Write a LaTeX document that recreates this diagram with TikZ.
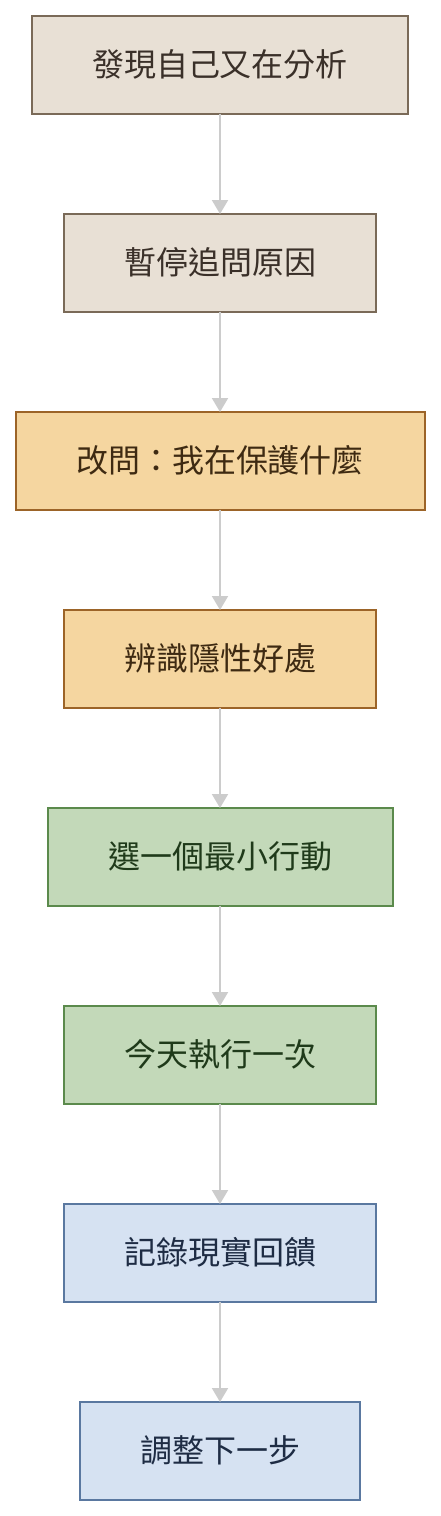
\documentclass[tikz,border=0pt]{standalone}
\usepackage{fontspec}
\newfontfamily\cjk{Noto Sans CJK TC}
\usetikzlibrary{positioning, arrows.meta}

\definecolor{beigefill}{HTML}{E8E0D5}
\definecolor{beigeline}{HTML}{7A6A58}
\definecolor{beigetext}{HTML}{3A3029}
\definecolor{amberfill}{HTML}{F5D6A0}
\definecolor{amberline}{HTML}{9C6428}
\definecolor{ambertext}{HTML}{3E2A12}
\definecolor{sagefill}{HTML}{C3D9B9}
\definecolor{sageline}{HTML}{5B8A4C}
\definecolor{sagetext}{HTML}{1F3A1A}
\definecolor{bluefill}{HTML}{D6E2F2}
\definecolor{blueline}{HTML}{5A78A0}
\definecolor{bluetext}{HTML}{1E2C44}
\definecolor{linkgray}{HTML}{CCCCCC}

\begin{document}
\begin{tikzpicture}[
    >={Triangle[width=16pt, length=14pt]},
    node distance=100.5pt,
    stepbox/.style={draw, line width=2pt, inner sep=0pt, outer sep=0pt,
               minimum height=97.5pt,
               font=\cjk\fontsize{32}{38}\selectfont},
    beige/.style={stepbox, fill=beigefill, draw=beigeline, text=beigetext},
    amber/.style={stepbox, fill=amberfill, draw=amberline, text=ambertext},
    sage/.style={stepbox, fill=sagefill, draw=sageline, text=sagetext},
    bluish/.style={stepbox, fill=bluefill, draw=blueline, text=bluetext},
    link/.style={->, draw=linkgray, line width=2pt}
]
\useasboundingbox (0,0) rectangle (440pt,-1516pt);

%---------------- Noticing ----------------
\node[beige, minimum width=376pt] (notice) at (220pt,-64.75pt) {發現自己又在分析};
\node[beige, minimum width=312pt, below=of notice] (pause) {暫停追問原因};

%---------------- Reframing ----------------
\node[amber, minimum width=409pt, below=of pause] (reframe) {改問：我在保護什麼};
\node[amber, minimum width=312pt, below=of reframe] (benefit) {辨識隱性好處};

%---------------- Acting ----------------
\node[sage, minimum width=345pt, below=of benefit] (pick) {選一個最小行動};
\node[sage, minimum width=312pt, below=of pick] (doit) {今天執行一次};

%---------------- Reviewing ----------------
\node[bluish, minimum width=312pt, below=of doit] (record) {記錄現實回饋};
\node[bluish, minimum width=280pt, below=of record] (adjust) {調整下一步};

\draw[link] (notice) -- (pause);
\draw[link] (pause) -- (reframe);
\draw[link] (reframe) -- (benefit);
\draw[link] (benefit) -- (pick);
\draw[link] (pick) -- (doit);
\draw[link] (doit) -- (record);
\draw[link] (record) -- (adjust);

\end{tikzpicture}
\end{document}
